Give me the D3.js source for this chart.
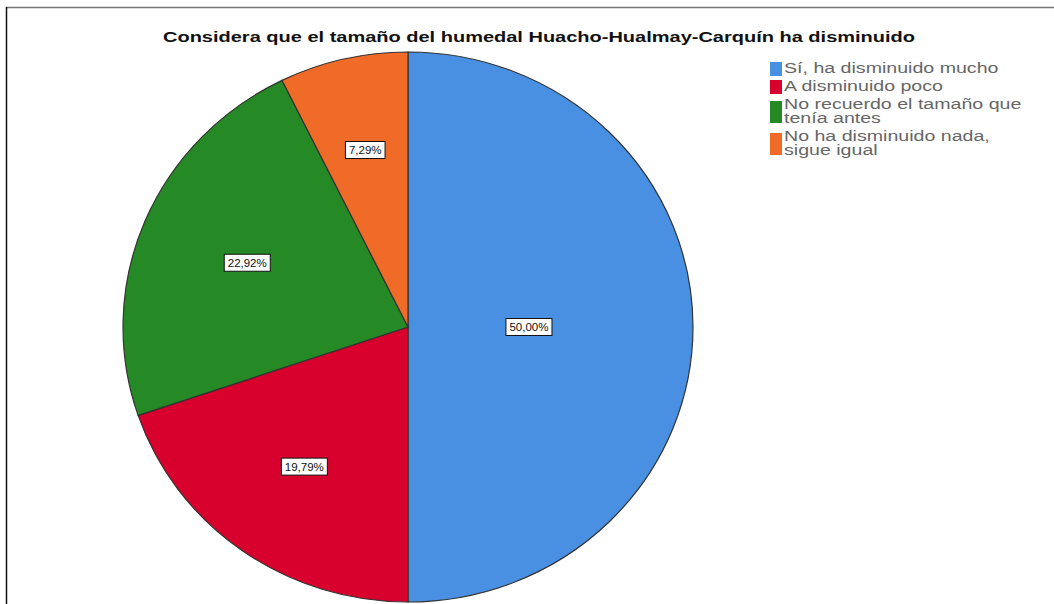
<!DOCTYPE html>
<html><head><meta charset="utf-8">
<script src="https://cdn.jsdelivr.net/npm/d3@7/dist/d3.min.js"></script>
<style>body{margin:0;background:#fff;}svg{display:block;}</style>
</head><body>
<svg id="chart" width="1054" height="604"></svg>
<script>
const categories = ["Sí, ha disminuido mucho","A disminuido poco","No recuerdo el tamaño que tenía antes","No ha disminuido nada, sigue igual"];
const legendLines = [["Sí, ha disminuido mucho"],["A disminuido poco"],["No recuerdo el tamaño que","tenía antes"],["No ha disminuido nada,","sigue igual"]];
const values = [50.00, 19.79, 22.92, 7.29];
const labels = ["50,00%","19,79%","22,92%","7,29%"];
const colors = ["#4a90e2","#d8002c","#258a25","#f06a28"];
const title = "Considera que el tamaño del humedal Huacho-Hualmay-Carquín ha disminuido";

const svg = d3.select("#chart");
const W = 1054, H = 604;
svg.append("rect").attr("width",W).attr("height",H).attr("fill","#fff");
svg.append("line").attr("x1",6).attr("x2",W).attr("y1",7.5).attr("y2",7.5).attr("stroke","#777").attr("stroke-width",1.5);
svg.append("line").attr("x1",6.5).attr("x2",6.5).attr("y1",7).attr("y2",H).attr("stroke","#111").attr("stroke-width",1.5);

svg.append("text").attr("x",539).attr("y",42).attr("text-anchor","middle")
  .attr("font-family","Liberation Sans, Arial, sans-serif").attr("font-weight","bold")
  .attr("font-size",15).attr("fill","#111")
  .attr("textLength",752).attr("lengthAdjust","spacingAndGlyphs").text(title);

const cx = 408, cy = 327, rx = 285, ry = 275;
const pie = d3.pie().sort(null).value(d=>d)(values);
const arc = d3.arc().innerRadius(0).outerRadius(rx);
const g = svg.append("g").attr("transform",`translate(${cx},${cy}) scale(1,${ry/rx})`);
g.selectAll("path").data(pie).join("path")
  .attr("d",arc).attr("fill",(d,i)=>colors[i])
  .attr("stroke","#333").attr("stroke-width",1.2).attr("vector-effect","non-scaling-stroke");

const lg = svg.append("g");
pie.forEach((d,i)=>{
  const a = (d.endAngle - d.startAngle)/2;
  const mid = (d.startAngle + d.endAngle)/2;
  const k = 2*Math.sin(a)/(3*a);
  const x = cx + Math.sin(mid)*rx*k;
  const y = cy - Math.cos(mid)*ry*k;
  const t = lg.append("text").attr("x",x).attr("y",y+4).attr("text-anchor","middle")
    .attr("font-family","Liberation Sans, Arial, sans-serif").attr("font-size",11.5).attr("fill","#111").text(labels[i]);
  const bb = t.node().getBBox();
  lg.insert("rect","text").attr("x",bb.x-3.5).attr("y",y-8.5).attr("width",bb.width+7).attr("height",17)
    .attr("fill","#fff").attr("stroke","#111").attr("stroke-width",1);
});

// legend
const legX = 770, legTop = 62, lineH = 14, entryGap = 4;
const leg = svg.append("g");
let y = legTop;
legendLines.forEach((lines,i)=>{
  const h = lines.length*lineH;
  leg.append("rect").attr("x",legX).attr("y",y+(lines.length>1?3:0)).attr("width",12).attr("height",lines.length>1?h-6:h)
    .attr("fill",colors[i]);
  lines.forEach((s,j)=>{
    leg.append("text").attr("transform",`translate(${legX+14},${y+11+j*lineH}) scale(1.4,1)`)
      .attr("font-family","Liberation Sans, Arial, sans-serif").attr("font-size",14).attr("fill","#666").text(s);
  });
  y += h + entryGap;
});
</script>
</body></html>
